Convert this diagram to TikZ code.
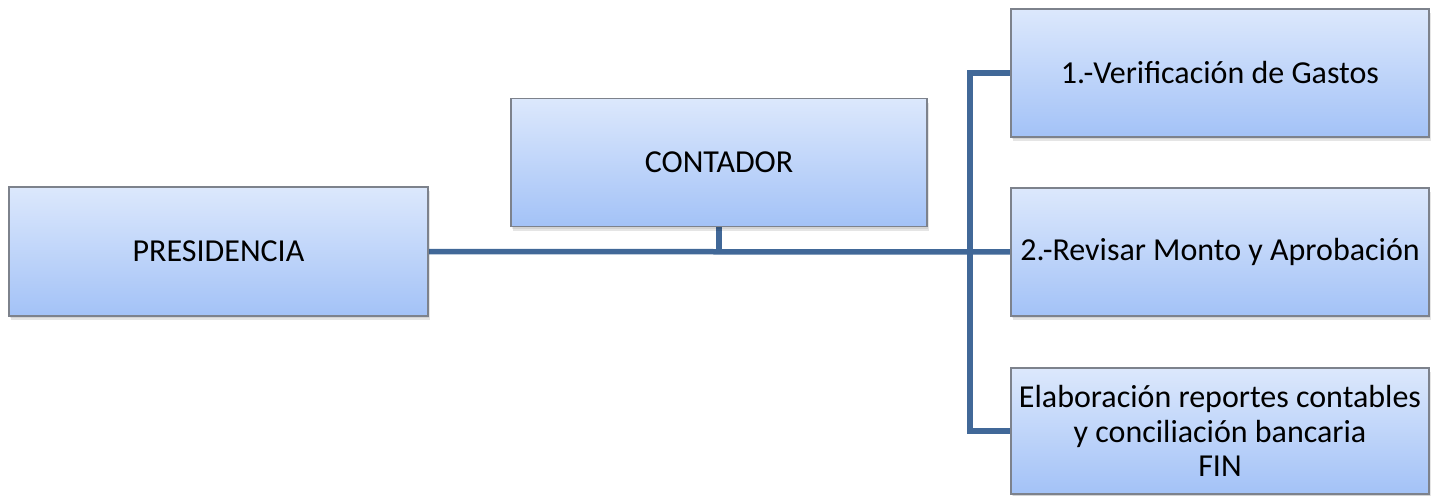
\documentclass[tikz,border=0pt]{standalone}
\usepackage{fontspec}
\setmainfont{Carlito}
\usetikzlibrary{calc}
\definecolor{linkblue}{RGB}{65,104,152}
\definecolor{boxtop}{RGB}{220,232,252}
\definecolor{boxbot}{RGB}{163,194,247}
\definecolor{boxedge}{RGB}{125,130,140}
\tikzset{
  orgbox/.style={rectangle, draw=boxedge, line width=1.3pt, top color=boxtop, bottom color=boxbot,
    minimum width=417pt, minimum height=128pt, inner sep=2pt, align=center,
    font=\fontsize{32}{34.5}\selectfont, text=black,
    preaction={fill=black, fill opacity=0.10, transform canvas={xshift=2pt, yshift=-4pt}},
    preaction={fill=black, fill opacity=0.08, transform canvas={xshift=1pt, yshift=-2pt}}},
  link/.style={draw=linkblue, line width=5.5pt, line join=miter}
}
\begin{document}
\begin{tikzpicture}[x=1pt,y=-1pt]
\useasboundingbox (0,0) rectangle (1439,495);
\coordinate (pc) at (218.5,251.5);
\coordinate (cc) at (719,162.5);
\coordinate (b1c) at (1220,73);
\coordinate (b2c) at (1220,252);
\coordinate (b3c) at (1220,431);
% connectors (drawn first so boxes sit on top)
\coordinate (spinetop) at (970,73);
\coordinate (spinebot) at (970,431);
\coordinate (join) at (719,252);
\draw[link] (pc) -- (b2c);
\draw[link] (cc) -- (join);
\draw[link] (b1c) -- (spinetop) -- (spinebot) -- (b3c);
% boxes
\node[orgbox, minimum width=419pt, minimum height=129pt] (P) at (pc) {PRESIDENCIA};
\node[orgbox, minimum width=416pt] (C) at (cc) {CONTADOR};
\node[orgbox, minimum width=418pt] (B1) at (b1c) {1.-Verificación de Gastos};
\node[orgbox, minimum width=418pt] (B2) at (b2c) {2.-Revisar Monto y Aprobación};
\node[orgbox, minimum width=418pt, minimum height=126pt] (B3) at (b3c) {Elaboración reportes contables\\y conciliación bancaria\\FIN};
\end{tikzpicture}
\end{document}
